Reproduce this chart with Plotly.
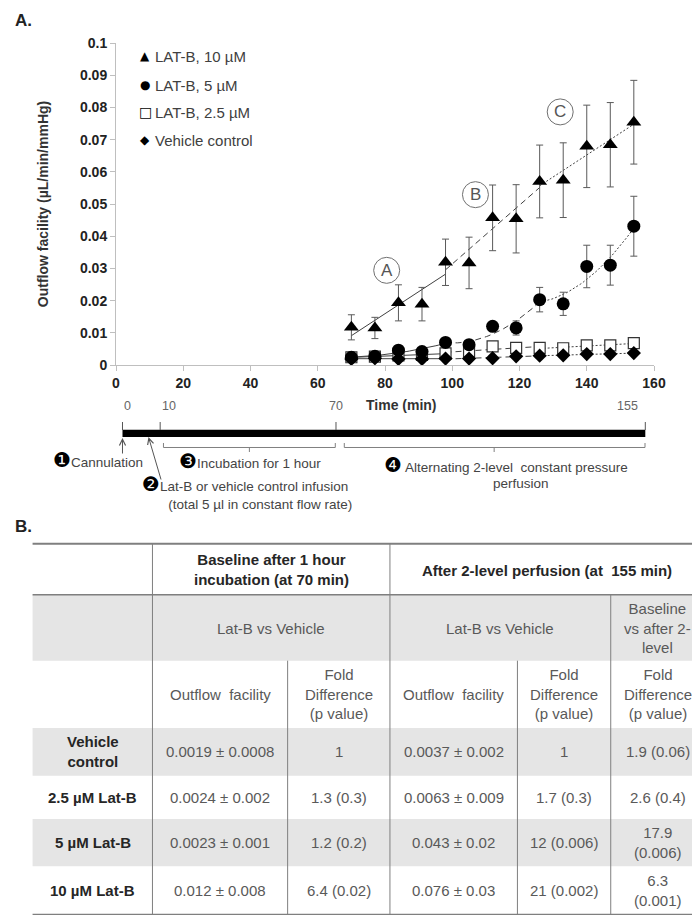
import numpy as np
import plotly.graph_objects as go

# ---------------- data ----------------
time_min = [70, 77, 84, 91, 98, 105, 112, 119, 126, 133, 140, 147, 154]

latb_10 = [0.0117, 0.0115, 0.0193, 0.0189, 0.0319, 0.0317, 0.0457, 0.0454, 0.0570, 0.0574, 0.0679, 0.0684, 0.0754]
latb_10_err = [0.0039, 0.0033, 0.0056, 0.0052, 0.0072, 0.0080, 0.0102, 0.0106, 0.0113, 0.0116, 0.0128, 0.0131, 0.0130]

latb_5 = [0.0024, 0.0027, 0.0046, 0.0042, 0.0070, 0.0063, 0.0120, 0.0115, 0.0203, 0.0190, 0.0306, 0.0310, 0.0431]
latb_5_err = [0.0008, 0.0008, 0.0010, 0.0010, 0.0012, 0.0012, 0.0015, 0.0022, 0.0038, 0.0036, 0.0066, 0.0062, 0.0093]

latb_25 = [0.0024, 0.0026, 0.0030, 0.0031, 0.0036, 0.0042, 0.0058, 0.0053, 0.0053, 0.0052, 0.0061, 0.0061, 0.0068]
latb_25_err = [0.0008, 0.0008, 0.0009, 0.0009, 0.0010, 0.0010, 0.0006, 0.0012, 0.0013, 0.0013, 0.0013, 0.0013, 0.0013]

vehicle = [0.0019, 0.0021, 0.0019, 0.0019, 0.0020, 0.0020, 0.0021, 0.0027, 0.0029, 0.0030, 0.0034, 0.0034, 0.0037]
vehicle_err = [0.0006, 0.0006, 0.0006, 0.0006, 0.0006, 0.0006, 0.0006, 0.0007, 0.0007, 0.0007, 0.0008, 0.0008, 0.0008]

series_names = ["LAT-B, 10 µM", "LAT-B, 5 µM", "LAT-B, 2.5 µM", "Vehicle control"]
legend_glyphs = ["▲", "●", "□", "◆"]

y_tickvals = [0, 0.01, 0.02, 0.03, 0.04, 0.05, 0.06, 0.07, 0.08, 0.09, 0.1]
y_ticktext = ["0", "0.01", "0.02", "0.03", "0.04", "0.05", "0.06", "0.07", "0.08", "0.09", "0.1"]

phase_labels = ["A", "B", "C"]
phase_x = [80.5, 106.9, 132.1]
phase_y = [0.0294, 0.0529, 0.0786]

timeline_ticks = [0, 10, 70, 155]

# table content
row_labels = ["Vehicle<br>control", "2.5 µM Lat-B", "5 µM Lat-B", "10 µM Lat-B"]
base_facility = ["0.0019 ± 0.0008", "0.0024 ± 0.002", "0.0023 ± 0.001", "0.012 ± 0.008"]
base_fold = ["1", "1.3 (0.3)", "1.2 (0.2)", "6.4 (0.02)"]
post_facility = ["0.0037 ± 0.002", "0.0063 ± 0.009", "0.043 ± 0.02", "0.076 ± 0.03"]
post_fold = ["1", "1.7 (0.3)", "12 (0.006)", "21 (0.002)"]
base_vs_post = ["1.9 (0.06)", "2.6 (0.4)", "17.9<br>(0.006)", "6.3<br>(0.001)"]

# ---------------- layout helpers ----------------
W, H = 700, 915
L, R, T, B = 107.5, 646.0, 35.0, 357.0
FONT = "Liberation Sans, Arial, sans-serif"


def xp(px):
    return (px - L) / (R - L)


def yp(py):
    return (B - py) / (B - T)


fig = go.Figure()

# ---------------- trend lines (fitted per phase) ----------------
segments = [(0, 5, "solid"), (4, 9, "6px,4px"), (8, 13, "2px,2px")]
fit_series = [(latb_10, 1), (latb_5, 2), (latb_25, 1), (vehicle, 1)]
for vals, deg in fit_series:
    for i0, i1, dash in segments:
        xs = np.array(time_min[i0:i1], dtype=float)
        ys = np.array(vals[i0:i1], dtype=float)
        coef = np.polyfit(xs, ys, deg)
        xx = np.linspace(xs[0], xs[-1], 40)
        fig.add_trace(go.Scatter(
            x=xx, y=np.polyval(coef, xx), mode="lines",
            line=dict(color="#404040", width=1, dash=dash),
            showlegend=False, hoverinfo="skip"))

# ---------------- data series ----------------
err_style = dict(type="data", color="#5a5a5a", thickness=1, width=3.5)

fig.add_trace(go.Scatter(
    x=time_min, y=latb_25, mode="markers", name=series_names[2], showlegend=False,
    marker=dict(symbol="square", size=11, color="white", line=dict(color="#333333", width=1.2)),
    error_y=dict(array=latb_25_err, **err_style)))
fig.add_trace(go.Scatter(
    x=time_min, y=vehicle, mode="markers", name=series_names[3], showlegend=False,
    marker=dict(symbol="diamond", size=11, color="black"),
    error_y=dict(array=vehicle_err, **err_style)))
fig.add_trace(go.Scatter(
    x=time_min, y=latb_5, mode="markers", name=series_names[1], showlegend=False,
    marker=dict(symbol="circle", size=13, color="black"),
    error_y=dict(array=latb_5_err, **err_style)))
fig.add_trace(go.Scatter(
    x=time_min, y=latb_10, mode="markers", name=series_names[0], showlegend=False,
    marker=dict(symbol="triangle-up", size=13, color="black"),
    error_y=dict(array=latb_10_err, **err_style)))

shapes = []
annotations = []

# legend (drawn as text, positioned like the original)
legend_rows_y = [48, 77, 104, 132]
glyph_sizes = [12, 12, 14, 12]
for name, glyph, gy, gs in zip(series_names, legend_glyphs, legend_rows_y, glyph_sizes):
    annotations.append(dict(x=xp(137), y=yp(gy), xref="paper", yref="paper", text=glyph,
                            showarrow=False, xanchor="center", yanchor="middle",
                            font=dict(family="DejaVu Sans", size=gs, color="black")))
    annotations.append(dict(x=xp(145), y=yp(gy), xref="paper", yref="paper", text=name,
                            showarrow=False, xanchor="left", yanchor="middle",
                            font=dict(family=FONT, size=15, color="#404040")))

# phase circles A, B, C
for lab, x0, y0 in zip(phase_labels, phase_x, phase_y):
    shapes.append(dict(type="circle", xref="x", yref="y", xsizemode="pixel", ysizemode="pixel",
                       xanchor=x0, yanchor=y0, x0=-13, x1=13, y0=-13, y1=13,
                       line=dict(color="#707070", width=1)))
    annotations.append(dict(x=x0, y=y0, xref="x", yref="y", text=lab, showarrow=False,
                            font=dict(family=FONT, size=17, color="#555555")))

# panel letters
annotations.append(dict(x=xp(4), y=yp(12), xref="paper", yref="paper", text="<b>A.</b>",
                        showarrow=False, xanchor="left", yanchor="middle",
                        font=dict(family=FONT, size=17, color="#222222")))
annotations.append(dict(x=xp(4), y=yp(518), xref="paper", yref="paper", text="<b>B.</b>",
                        showarrow=False, xanchor="left", yanchor="middle",
                        font=dict(family=FONT, size=17, color="#222222")))

# ---------------- timeline diagram ----------------
t_px = {0: 114.0, 10: 151.7, 70: 327.7, 155: 637.3}
shapes.append(dict(type="rect", xref="paper", yref="paper",
                   x0=xp(114), x1=xp(637.3), y0=yp(429), y1=yp(421.7),
                   fillcolor="black", line=dict(width=0)))
for t in timeline_ticks:
    shapes.append(dict(type="line", xref="paper", yref="paper",
                       x0=xp(t_px[t]), x1=xp(t_px[t]), y0=yp(414), y1=yp(422),
                       line=dict(color="#555555", width=1)))
    annotations.append(dict(x=xp(t_px[t] - (5 if t == 155 else 0)), y=yp(407), xref="paper", yref="paper",
                            text=str(t), showarrow=False,
                            font=dict(family=FONT, size=12.5, color="#666666")))
annotations.append(dict(x=xp(393), y=yp(407), xref="paper", yref="paper", text="<b>Time (min)</b>",
                        showarrow=False, font=dict(family=FONT, size=14, color="#333333")))


def path(points):
    return "M " + " L ".join(f"{xp(a):.5f},{yp(b):.5f}" for a, b in points)


for xa, xb, xm in [(155, 327, 241), (336, 637, 486)]:
    shapes.append(dict(type="path", xref="paper", yref="paper",
                       path=path([(xa, 435), (xa, 439.5), (xb, 439.5), (xb, 435)]),
                       line=dict(color="#808080", width=1)))
    shapes.append(dict(type="line", xref="paper", yref="paper",
                       x0=xp(xm), x1=xp(xm), y0=yp(439.5), y1=yp(444),
                       line=dict(color="#808080", width=1)))

# arrows
annotations.append(dict(x=xp(114), y=yp(430), xref="paper", yref="paper", text="",
                        showarrow=True, ax=0, ay=17, arrowhead=5, arrowsize=1.2,
                        arrowwidth=1, arrowcolor="#555555", standoff=0))
annotations.append(dict(x=xp(140), y=yp(429), xref="paper", yref="paper", text="",
                        showarrow=True, ax=13, ay=44, arrowhead=5, arrowsize=1.2,
                        arrowwidth=1, arrowcolor="#555555", standoff=0))

step_font = dict(family=FONT, size=13.5, color="#444444")
BIG = '<span style="font-family:DejaVu Sans;font-size:20px;color:#000000">'
step_texts = [
    (42, 452, "left", BIG + "❶</span>Cannulation"),
    (169, 453, "left", BIG + "❸</span>Incubation for 1 hour"),
    (132, 484, "left", BIG + "❷</span>Lat-B or vehicle control infusion<br>"
     + "&nbsp;" * 7 + "(total 5 µl in constant flow rate)"),
    (374, 457, "left", BIG + "❹</span> Alternating 2-level  constant pressure"),
    (513, 475, "center", "perfusion"),
]
for x0, y0, anc, txt in step_texts:
    annotations.append(dict(x=xp(x0), y=yp(y0), xref="paper", yref="paper", text=txt,
                            showarrow=False, xanchor=anc, yanchor="middle", align="left",
                            font=step_font))

# ---------------- table ----------------
TL, TR = 24.0, 697.0
rows_y = [535.7, 586.7, 652.7, 720.0, 767.7, 811.0, 858.3, 906.7]
col_x = [24.0, 144.0, 279.3, 381.7, 509.3, 602.7, 697.0]
gray = "#e5e5e5"
for y0, y1 in [(rows_y[1], rows_y[2]), (rows_y[3], rows_y[4]), (rows_y[5], rows_y[6])]:
    shapes.append(dict(type="rect", xref="paper", yref="paper", x0=xp(TL), x1=xp(TR),
                       y0=yp(y1), y1=yp(y0), fillcolor=gray, line=dict(width=0), layer="below"))
line_col = "#7f7f7f"
for yy, lw in [(rows_y[0], 2), (rows_y[1], 1.5), (rows_y[-1], 2)]:
    shapes.append(dict(type="line", xref="paper", yref="paper", x0=xp(TL), x1=xp(TR),
                       y0=yp(yy), y1=yp(yy), line=dict(color=line_col, width=lw)))
for cx, ytop in [(col_x[1], rows_y[0]), (col_x[3], rows_y[0]), (col_x[2], rows_y[2]),
                 (col_x[4], rows_y[2]), (col_x[5], rows_y[1])]:
    shapes.append(dict(type="line", xref="paper", yref="paper", x0=xp(cx), x1=xp(cx),
                       y0=yp(ytop), y1=yp(rows_y[-1]), line=dict(color=line_col, width=1)))

hdr_font = dict(family=FONT, size=15, color="#262626")
body_font = dict(family=FONT, size=15, color="#595959")


def cell(x, y, text, font):
    annotations.append(dict(x=xp(x), y=yp(y), xref="paper", yref="paper", text=text,
                            showarrow=False, xanchor="center", yanchor="middle", font=font,
                            align="center"))


cc = [(col_x[i] + col_x[i + 1]) / 2 for i in range(6)]
cell((col_x[1] + col_x[3]) / 2, 561, "<b>Baseline after 1 hour<br>incubation (at 70 min)</b>", hdr_font)
cell((col_x[3] + col_x[6]) / 2, 562, "<b>After 2-level perfusion (at  155 min)</b>", hdr_font)
cell((col_x[1] + col_x[3]) / 2, 620, "Lat-B vs Vehicle", body_font)
cell((col_x[3] + col_x[5]) / 2, 620, "Lat-B vs Vehicle", body_font)
cell(cc[5], 620, "Baseline<br>vs after 2-<br>level", body_font)
cell(cc[1], 686, "Outflow  facility", body_font)
cell(cc[3], 686, "Outflow  facility", body_font)
for c in (cc[2], cc[4], cc[5]):
    cell(c, 686, "Fold<br>Difference<br>(p value)", body_font)

row_centers = [(rows_y[i] + rows_y[i + 1]) / 2 for i in range(3, 7)]
for i, yc in enumerate(row_centers):
    cell(cc[0], yc, "<b>" + row_labels[i] + "</b>", hdr_font)
    cell(cc[1], yc, base_facility[i], body_font)
    cell(cc[2], yc, base_fold[i], body_font)
    cell(cc[3], yc, post_facility[i], body_font)
    cell(cc[4], yc, post_fold[i], body_font)
    cell(cc[5], yc, base_vs_post[i], body_font)

# ---------------- layout ----------------
axis_col = "#bfbfbf"
fig.update_layout(
    width=W, height=H,
    margin=dict(l=L, r=W - R, t=T, b=H - B, autoexpand=False),
    paper_bgcolor="white", plot_bgcolor="white",
    font=dict(family=FONT, color="#333333"),
    showlegend=False,
    xaxis=dict(range=[0, 160], dtick=20, tick0=0, showline=True, linecolor=axis_col, linewidth=1,
               ticks="outside", ticklen=5, tickcolor=axis_col, showgrid=False, zeroline=False,
               tickfont=dict(family=FONT, size=14, color="#222222"), tickprefix="<b>", ticksuffix="</b>",
               automargin=False),
    yaxis=dict(range=[0, 0.1], tickvals=y_tickvals, ticktext=["<b>" + t + "</b>" for t in y_ticktext],
               showline=True, linecolor=axis_col, linewidth=1,
               ticks="outside", ticklen=5, tickcolor=axis_col, showgrid=False, zeroline=False,
               tickfont=dict(family=FONT, size=14, color="#222222"),
               title=dict(text="<b>Outflow facility (µL/min/mmHg)</b>", standoff=28,
                          font=dict(family=FONT, size=14, color="#333333")),
               automargin=False),
    shapes=shapes, annotations=annotations,
)

fig.write_html("out.html")
